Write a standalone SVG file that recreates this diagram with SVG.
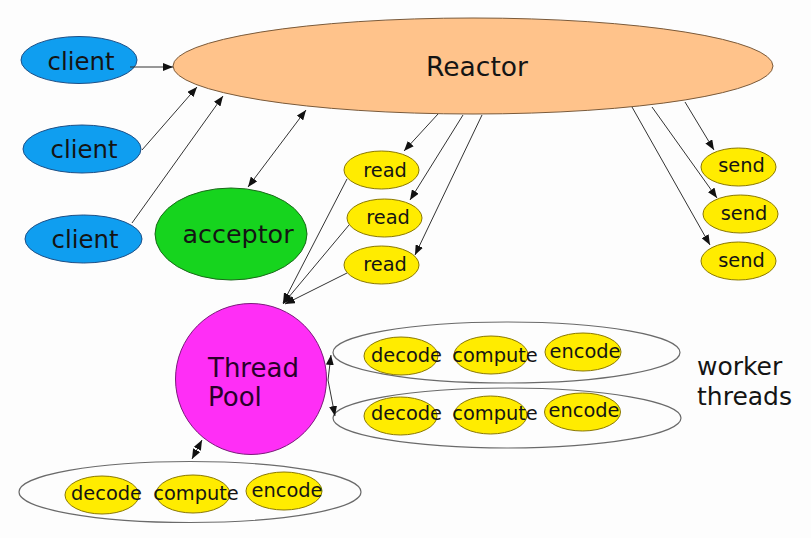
<svg xmlns="http://www.w3.org/2000/svg" width="811" height="538" viewBox="0 0 811 538">
<style>
text{font-family:"DejaVu Sans",Verdana,sans-serif;fill:#141414;text-anchor:middle}
.client{fill:#0f9ef0;stroke:#1d4f86;stroke-width:1}
.y{fill:#ffec00;stroke:#8a7800;stroke-width:1}
.grp{fill:none;stroke:#6a6a6a;stroke-width:1.2}
.s19{font-size:19.4px}
.conn line{stroke:#333;stroke-width:1;marker-end:url(#ah)}
.conn line.both{marker-start:url(#ah)}
</style>
<defs>
<marker id="ah" viewBox="0 0 10 8" refX="10" refY="4" markerWidth="10" markerHeight="8" markerUnits="userSpaceOnUse" orient="auto-start-reverse">
<path d="M0,0 L10,4 L0,8 z" fill="#111"/>
</marker>
</defs>
<rect width="811" height="538" fill="#fdfdfd"/>

<g id="reactor">
<ellipse cx="473" cy="66" rx="300" ry="48" fill="#ffc38b" stroke="#7a5a3a" stroke-width="1"/>
<text x="477" y="76" style="font-size:26.5px">Reactor</text>
</g>
<g id="client1">
<ellipse class="client" cx="79" cy="60" rx="58" ry="23.5"/>
<text x="81" y="70" style="font-size:24.4px">client</text>
</g>
<g id="client2">
<ellipse class="client" cx="82" cy="149" rx="59" ry="24"/>
<text x="84" y="158" style="font-size:24.4px">client</text>
</g>
<g id="client3">
<ellipse class="client" cx="83.5" cy="239" rx="58.5" ry="24"/>
<text x="85" y="248" style="font-size:24.4px">client</text>
</g>
<g id="acceptor">
<ellipse cx="231" cy="234" rx="76" ry="46" fill="#16d41e" stroke="#1a6a1a" stroke-width="1"/>
<text x="238" y="243" style="font-size:25.4px">acceptor</text>
</g>
<g id="read1"><ellipse class="y" cx="381.5" cy="170" rx="37.5" ry="19"/><text class="s19" x="385" y="177">read</text></g>
<g id="read2"><ellipse class="y" cx="384.5" cy="218" rx="37.5" ry="19"/><text class="s19" x="388" y="224">read</text></g>
<g id="read3"><ellipse class="y" cx="381.5" cy="265" rx="37.5" ry="19"/><text class="s19" x="385" y="271">read</text></g>
<g id="send1"><ellipse class="y" cx="738.5" cy="167" rx="37.5" ry="19"/><text class="s19" x="741.5" y="172">send</text></g>
<g id="send2"><ellipse class="y" cx="740.5" cy="214" rx="37.5" ry="19"/><text class="s19" x="744" y="220">send</text></g>
<g id="send3"><ellipse class="y" cx="738.5" cy="261" rx="37.5" ry="19"/><text class="s19" x="741.5" y="267">send</text></g>

<g id="threadpool">
<circle cx="251" cy="379" r="75.5" fill="#ff2ef6" stroke="#7a1a7a" stroke-width="1"/>
<text x="208" y="377" style="font-size:26px;text-anchor:start;fill:#2a002a">Thread</text>
<text x="208" y="406" style="font-size:26px;text-anchor:start;fill:#2a002a">Pool</text>
</g>

<g id="worker1">
<ellipse class="grp" cx="506.5" cy="352.5" rx="173.5" ry="30.5"/>
<ellipse class="y" cx="401" cy="356" rx="37" ry="19"/>
<ellipse class="y" cx="491" cy="355" rx="37" ry="19"/>
<ellipse class="y" cx="583" cy="352" rx="38" ry="19"/>
<text class="s19" x="406.5" y="362">decode</text>
<text class="s19" x="495" y="362">compute</text>
<text class="s19" x="585" y="358">encode</text>
</g>
<g id="worker2">
<ellipse class="grp" cx="507" cy="418" rx="174" ry="30"/>
<ellipse class="y" cx="400.5" cy="416" rx="36.5" ry="19"/>
<ellipse class="y" cx="490.5" cy="415" rx="36.5" ry="19"/>
<ellipse class="y" cx="582.5" cy="412" rx="38" ry="19"/>
<text class="s19" x="406.5" y="420">decode</text>
<text class="s19" x="495" y="420">compute</text>
<text class="s19" x="584" y="417">encode</text>
</g>
<g id="worker3">
<ellipse class="grp" cx="190" cy="492" rx="171" ry="30.5"/>
<ellipse class="y" cx="102" cy="495" rx="37" ry="19"/>
<ellipse class="y" cx="193" cy="494" rx="37" ry="19"/>
<ellipse class="y" cx="284" cy="491" rx="38" ry="19"/>
<text class="s19" x="106.5" y="500">decode</text>
<text class="s19" x="196" y="500">compute</text>
<text class="s19" x="287" y="497">encode</text>
</g>
<g id="worker-threads-label">
<text x="697" y="375" style="font-size:25px;text-anchor:start">worker</text>
<text x="697" y="405" style="font-size:25px;text-anchor:start">threads</text>
</g>

<g id="connectors" class="conn">
<line x1="130" y1="67" x2="173" y2="67"/>
<line x1="142" y1="150" x2="197" y2="87"/>
<line x1="132" y1="223" x2="223" y2="96"/>
<line class="both" x1="248" y1="187" x2="306" y2="110"/>
<line x1="438" y1="114" x2="404" y2="151"/>
<line x1="463" y1="115" x2="410" y2="200"/>
<line x1="482" y1="115" x2="415" y2="255"/>
<line x1="347" y1="179" x2="283" y2="303"/>
<line x1="349" y1="225" x2="283" y2="304"/>
<line x1="347" y1="273" x2="285" y2="304"/>
<line x1="685" y1="102" x2="714" y2="150"/>
<line x1="652" y1="107" x2="717" y2="198"/>
<line x1="632" y1="107" x2="710" y2="245"/>
<line x1="328" y1="380" x2="331" y2="355"/>
<line x1="328" y1="380" x2="335" y2="416"/>
<line class="both" x1="192" y1="459" x2="202" y2="440"/>
</g>
</svg>
